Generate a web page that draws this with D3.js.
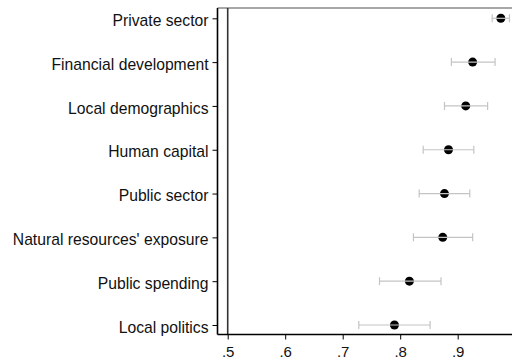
<!DOCTYPE html>
<html><head><meta charset="utf-8">
<script src="https://cdn.jsdelivr.net/npm/d3@7"></script>
<style>body{margin:0;background:#fff}svg{display:block}text{font-family:"Liberation Sans",Arial,Helvetica,sans-serif;fill:#111}</style>
</head><body>
<script>
const categories = ["Private sector","Financial development","Local demographics","Human capital","Public sector","Natural resources' exposure","Public spending","Local politics"];
const estimates = [0.975,0.926,0.914,0.884,0.877,0.874,0.816,0.790];
const lower = [0.960,0.889,0.877,0.840,0.833,0.823,0.764,0.728];
const upper = [0.990,0.965,0.952,0.928,0.921,0.926,0.871,0.852];
const xTicks = [0.5,0.6,0.7,0.8,0.9];
const xTickLabels = [".5",".6",".7",".8",".9"];
const refValue = 0.5;

(function(){
const W=512,H=363;
const pL=217.5, pR=512, pT=8, pB=334.5;
const svg=d3.select("body").append("svg").attr("width",W).attr("height",H);
const x=d3.scaleLinear().domain([0.5,1]).range([227.7,515.2]);
const y=d3.scalePoint().domain(categories).range([18.3,325]);

svg.append("line").attr("x1",pL).attr("x2",pR).attr("y1",pT).attr("y2",pT).attr("stroke","#8a8a8a").attr("stroke-width",1.6);
svg.append("line").attr("x1",x(refValue)).attr("x2",x(refValue)).attr("y1",pT).attr("y2",pB).attr("stroke","#333").attr("stroke-width",1.6);

const data=categories.map((c,i)=>({c,est:estimates[i],lo:lower[i],hi:upper[i]}));
svg.selectAll("circle.m").data(data).enter().append("circle").attr("class","m")
 .attr("cx",d=>x(d.est)).attr("cy",d=>y(d.c)).attr("r",4.5).attr("fill","#000");
const eb=svg.selectAll("g.eb").data(data).enter().append("g").attr("class","eb")
 .attr("stroke","#c4c4c4").attr("stroke-width",1.2).attr("fill","none");
eb.append("line").attr("x1",d=>x(d.lo)).attr("x2",d=>x(d.hi)).attr("y1",d=>y(d.c)).attr("y2",d=>y(d.c));
eb.append("line").attr("x1",d=>x(d.lo)).attr("x2",d=>x(d.lo)).attr("y1",d=>y(d.c)-4).attr("y2",d=>y(d.c)+4);
eb.append("line").attr("x1",d=>x(d.hi)).attr("x2",d=>x(d.hi)).attr("y1",d=>y(d.c)-4).attr("y2",d=>y(d.c)+4);

const ya=svg.append("g").attr("transform",`translate(${pL},0)`)
 .call(d3.axisLeft(y).tickSize(5).tickPadding(4));
ya.select(".domain").attr("d",`M0,${pT}V${pB}`).attr("stroke","#000").attr("stroke-width",1.6);
ya.selectAll(".tick line").attr("stroke","#000").attr("stroke-width",1);
ya.selectAll("text").style("font-size","15.7px").attr("dy","0.45em").attr("fill","#111");

const xa=svg.append("g").attr("transform",`translate(0,${pB})`)
 .call(d3.axisBottom(x).tickValues(xTicks).tickFormat((d,i)=>xTickLabels[i]).tickSize(5).tickPadding(6.5));
xa.select(".domain").attr("d",`M${pL},0H${pR}`).attr("stroke","#000").attr("stroke-width",1.6);
xa.selectAll(".tick line").attr("stroke","#000").attr("stroke-width",1);
xa.selectAll("text").style("font-size","15px").attr("fill","#111");
})();
</script>
</body></html>
